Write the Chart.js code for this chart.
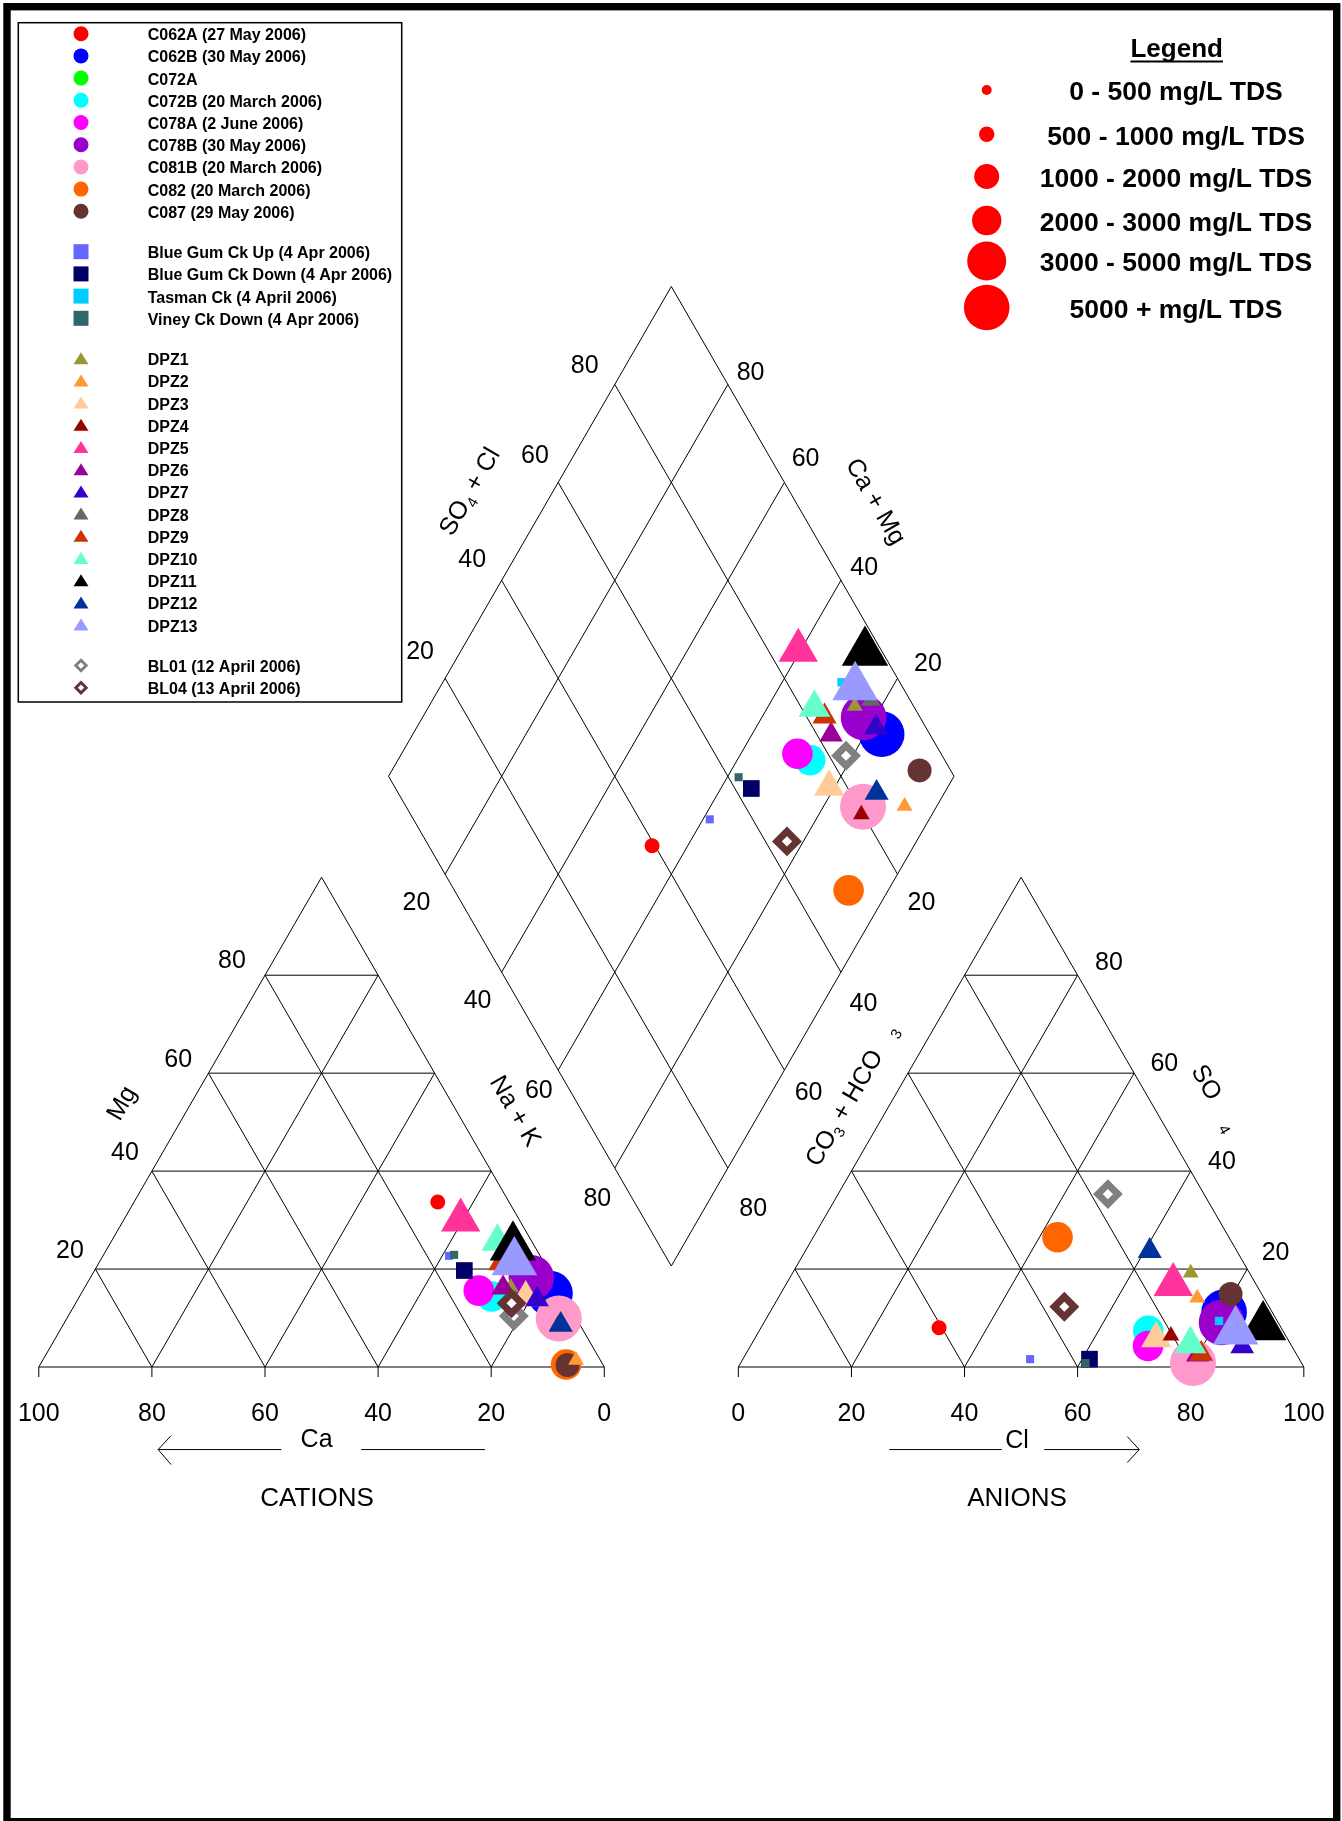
<!DOCTYPE html>
<html>
<head>
<meta charset="utf-8">
<title>Piper diagram</title>
<script src="https://cdn.jsdelivr.net/npm/chart.js@4.4.1/dist/chart.umd.min.js"></script>
<style>
  html, body { margin: 0; padding: 0; background: #fff; }
  #wrap { width: 1342px; height: 1821px; }
</style>
</head>
<body>
<div id="wrap"><canvas id="piperChart" width="1342" height="1821"></canvas></div>
<script>
// Samples, in the order of the legend (later ones are drawn on top)
var sampleNames = ['C062A (27 May 2006)', 'C062B (30 May 2006)', 'C072A', 'C072B (20 March 2006)',
    'C078A (2 June 2006)', 'C078B (30 May 2006)', 'C081B (20 March 2006)', 'C082 (20 March 2006)',
    'C087 (29 May 2006)', 'Blue Gum Ck Up (4 Apr 2006)', 'Blue Gum Ck Down (4 Apr 2006)',
    'Tasman Ck (4 April 2006)', 'Viney Ck Down (4 Apr 2006)', 'DPZ1', 'DPZ2', 'DPZ3', 'DPZ4', 'DPZ5',
    'DPZ6', 'DPZ7', 'DPZ8', 'DPZ9', 'DPZ10', 'DPZ11', 'DPZ12', 'DPZ13',
    'BL01 (12 April 2006)', 'BL04 (13 April 2006)'];

// Cation triangle, % meq/L (Ca = 100 - Mg - Na+K)
var cationMg  = [33.7, 15.0, null, 14.4, 15.6, 18.2, 9.9, 0.5, 0.4, 22.7, 19.7, 23.0, 22.9,
    16.3, 1.4, 14.2, 8.6, 30.0, 16.2, 13.8, 13.5, 21.2, 25.6, 24.5, 8.6, 21.4, 10.4, 13.0];
var cationNaK = [53.7, 82.9, null, 72.9, 70.0, 78.0, 87.0, 93.0, 93.3, 61.2, 65.4, 70.5, 62.0,
    75.3, 94.3, 79.0, 87.5, 59.6, 74.0, 81.2, 77.5, 71.0, 68.3, 71.6, 88.0, 73.4, 78.8, 77.1];

// Anion triangle, % meq/L (CO3 + HCO3 = 100 - SO4 - Cl)
var anionSO4 = [8.0, 11.2, null, 7.4, 4.3, 9.1, 0.8, 26.5, 14.9, 1.6, 1.6, 9.4, 0.8,
    19.2, 14.1, 5.8, 6.4, 16.8, 2.5, 4.2, 8.0, 2.7, 4.7, 8.2, 23.7, 7.3, 35.3, 12.3];
var anionCl  = [31.5, 80.3, null, 68.8, 70.3, 80.9, 80.0, 43.2, 79.6, 50.8, 61.3, 80.3, 61.0,
    70.4, 74.1, 71.0, 73.3, 68.5, 80.0, 87.0, 85.0, 80.5, 77.6, 88.7, 60.9, 84.3, 47.7, 51.5];

var markerColors = ['#ff0000', '#0000ff', '#00ff00', '#00ffff', '#ff00ff', '#9900cc', '#ff99cc', '#ff6600',
    '#663333', '#6666ff', '#000066', '#00ccff', '#336666', '#999933', '#ff9933', '#ffcc99', '#990000',
    '#ff3399', '#990099', '#3300cc', '#666666', '#cc3300', '#66ffcc', '#000000', '#003399', '#9999ff',
    '#808080', '#663333'];
var markerShapes = ['circle', 'circle', 'circle', 'circle', 'circle', 'circle', 'circle', 'circle', 'circle',
    'rect', 'rect', 'rect', 'rect',
    'triangle', 'triangle', 'triangle', 'triangle', 'triangle', 'triangle', 'triangle', 'triangle',
    'triangle', 'triangle', 'triangle', 'triangle', 'triangle',
    'rectRot', 'rectRot'];
// marker size follows TDS of each sample
var markerSizes = [7.5, 22.8, 8, 15.3, 15.3, 22.8, 23, 15.3, 12,
    5.7, 11.8, 5.9, 5.7,
    9.2, 9.2, 17.5, 9.6, 22.7, 13.5, 13.7, 11, 13.9, 18.3, 26.8, 13.9, 26.3,
    10, 10];
var legendGroups = [0, 0, 0, 0, 0, 0, 0, 0, 0, 1, 1, 1, 1, 2, 2, 2, 2, 2, 2, 2, 2, 2, 2, 2, 2, 2, 3, 3];

var tdsClasses = ['0 - 500 mg/L TDS', '500 - 1000 mg/L TDS', '1000 - 2000 mg/L TDS',
    '2000 - 3000 mg/L TDS', '3000 - 5000 mg/L TDS', '5000 + mg/L TDS'];
var tdsRadius = [5, 7.7, 12.5, 14.7, 19.5, 22.8];

var tickValues = [0, 20, 40, 60, 80, 100];
var gridSteps = [20, 40, 60, 80];

// Layout: 1 data unit = 1 % of a triangle side
var PX = 5.655;
var CORNER = { x: 38.8, y: 1367 };   // pixel of the Ca corner of the cation triangle
var GAP = 23.7;                      // space between the triangles
var DIAMOND_LIFT = 17.86;            // lower corner of the diamond above the bases
var SIN60 = Math.sqrt(3) / 2;
var AN = 100 + GAP;                  // left corner of the anion triangle
var FONT = '"Liberation Sans", Arial, sans-serif';

// pixel nudges of the edge numbers (20, 40, 60, 80) away from their grid line ends
var offMg     = [[-25.4, -21.2], [-26.9, -20.9], [-30.2, -16.2], [-33, -17.5]];
var offNaK    = [[-28.7, 25.5], [-24.1, 25.6], [-19.4, 17.8], [-17.4, 27.6]];
var offSO4Cl  = [[-25, -28.8], [-29.4, -23.5], [-23.3, -29.7], [-30, -21]];
var offCaMg   = [[30.5, -17.7], [23.2, -15.4], [21.2, -26.5], [22.7, -14.5]];
var offHCO3   = [[24, 25.8], [22.5, 28.5], [24.2, 19.9], [25.3, 38.3]];
var offSO4    = [[28.3, -19.3], [31.3, -11.9], [30.2, -12.4], [31.3, -15.2]];

var dBottom = { x: 100 + GAP / 2, y: DIAMOND_LIFT };
var dLeft = { x: dBottom.x - 50, y: dBottom.y + 100 * SIN60 };
var dTop = { x: dBottom.x, y: dBottom.y + 200 * SIN60 };
var dRight = { x: dBottom.x + 50, y: dLeft.y };

function cationPoint(mg, nak) {
    return { x: nak + mg / 2, y: mg * SIN60 };
}

function anionPoint(so4, cl) {
    return { x: AN + cl + so4 / 2, y: so4 * SIN60 };
}

function diamondPoint(nak, so4cl) {
    return { x: dLeft.x + (nak + so4cl) / 2, y: dLeft.y + (so4cl - nak) * SIN60 };
}

function lerp(a, b, t) {
    return { x: a.x + (b.x - a.x) * t, y: a.y + (b.y - a.y) * t };
}

// Text with optional subscripts, centred on (x, y), rotated by angle degrees
function drawRich(ctx, parts, x, y, angle, size) {
    ctx.save();
    ctx.translate(x, y);
    ctx.rotate(angle * Math.PI / 180);
    ctx.textBaseline = 'middle';
    ctx.textAlign = 'left';
    var total = 0;
    parts.forEach(function(p) {
        ctx.font = (p.sub ? Math.round(size * 0.6) : size) + 'px ' + FONT;
        p.w = ctx.measureText(p.t).width;
        total += p.w;
    });
    var cx = -total / 2;
    var base = size * 0.11;
    parts.forEach(function(p) {
        ctx.font = (p.sub ? Math.round(size * 0.6) : size) + 'px ' + FONT;
        ctx.fillText(p.t, cx, base + (p.sub ? size * 0.32 : 0));
        cx += p.w;
    });
    ctx.restore();
}

var piperFrame = {
    id: 'piperFrame',
    beforeDraw: function(chart) {
        var ctx = chart.ctx;
        ctx.save();
        ctx.fillStyle = '#ffffff';
        ctx.fillRect(0, 0, chart.width, chart.height);
        ctx.restore();
    },
    beforeDatasetsDraw: function(chart) {
        var ctx = chart.ctx;
        var xs = chart.scales.x, ys = chart.scales.y;
        function X(p) { return xs.getPixelForValue(p.x); }
        function Y(p) { return ys.getPixelForValue(p.y); }
        function seg(a, b) { ctx.moveTo(X(a), Y(a)); ctx.lineTo(X(b), Y(b)); }

        ctx.save();
        ctx.strokeStyle = '#000';
        ctx.lineWidth = 1;
        ctx.beginPath();

        // the two triangles with their 20 % grid
        [0, AN].forEach(function(x0) {
            var A = { x: x0, y: 0 }, B = { x: x0 + 100, y: 0 }, C = { x: x0 + 50, y: 100 * SIN60 };
            seg(A, B); seg(B, C); seg(C, A);
            gridSteps.forEach(function(k) {
                var t = k / 100;
                seg(lerp(A, C, t), lerp(B, C, t));
                seg(lerp(A, B, t), lerp(B, C, 1 - t));
                seg(lerp(A, B, t), lerp(A, C, t));
            });
            tickValues.forEach(function(t) {
                var p = { x: x0 + t, y: 0 };
                ctx.moveTo(X(p), Y(p));
                ctx.lineTo(X(p), Y(p) + 10);
            });
        });

        // the diamond
        seg(dLeft, dTop); seg(dTop, dRight); seg(dRight, dBottom); seg(dBottom, dLeft);
        gridSteps.forEach(function(k) {
            seg(diamondPoint(k, 0), diamondPoint(k, 100));
            seg(diamondPoint(0, k), diamondPoint(100, k));
        });
        ctx.stroke();

        // arrows under the triangles
        var ay = -14.6;
        ctx.beginPath();
        seg({ x: 21.1, y: ay }, { x: 42.9, y: ay });
        seg({ x: 57.0, y: ay }, { x: 78.9, y: ay });
        seg({ x: AN + 26.7, y: ay }, { x: AN + 46.6, y: ay });
        seg({ x: AN + 54.1, y: ay }, { x: AN + 70.9, y: ay });
        var l = { x: 21.1, y: ay }, r = { x: AN + 70.9, y: ay };
        ctx.moveTo(X(l) + 13, Y(l) - 14); ctx.lineTo(X(l), Y(l)); ctx.lineTo(X(l) + 13, Y(l) + 15);
        ctx.moveTo(X(r) - 12, Y(r) - 13); ctx.lineTo(X(r), Y(r)); ctx.lineTo(X(r) - 12, Y(r) + 13);
        ctx.stroke();

        // axis numbers
        ctx.fillStyle = '#000';
        ctx.textAlign = 'center';
        ctx.textBaseline = 'middle';
        ctx.font = '25px ' + FONT;
        function label(text, p, off) {
            ctx.fillText(text, X(p) + off[0], Y(p) + off[1] + 3);
        }
        tickValues.forEach(function(t) {
            label(String(100 - t), { x: t, y: 0 }, [0, 44.6]);
            label(String(t), { x: AN + t, y: 0 }, [0, 44.6]);
        });
        gridSteps.forEach(function(k, n) {
            label(String(k), cationPoint(k, 0), offMg[n]);
            label(String(k), anionPoint(k, 100 - k), offSO4[n]);
            label(String(k), diamondPoint(k, 0), offNaK[n]);
            label(String(k), diamondPoint(0, k), offSO4Cl[n]);
            label(String(k), diamondPoint(100 - k, 100), offCaMg[n]);
            label(String(k), diamondPoint(100, 100 - k), offHCO3[n]);
        });

        // axis titles
        function title(parts, p, dx, dy, angle, size) {
            drawRich(ctx, parts, X(p) + dx, Y(p) + dy, angle, size);
        }
        title([{ t: 'Mg' }], cationPoint(50, 0), -60.2, -20, -60, 25);
        title([{ t: 'Na + K' }], diamondPoint(70, 0), -69.5, -9, 60, 25);
        title([{ t: 'SO' }, { t: '4', sub: true }, { t: ' + Cl' }], diamondPoint(0, 50), -61.9, -40.8, -60, 25);
        title([{ t: 'Ca + Mg' }], diamondPoint(50, 100), 64.8, -30.8, 60, 25);
        title([{ t: 'CO' }, { t: '3', sub: true }, { t: ' + HCO' }, { t: '   ' }, { t: '3', sub: true }],
            diamondPoint(100, 50), 37.3, 73.2, -60, 25);
        title([{ t: 'SO' }, { t: '    ' }, { t: '4', sub: true }], anionPoint(50, 50), 54.6, -25.1, 60, 25);
        title([{ t: 'Ca' }], { x: 50, y: 0 }, -5, 70.5, 0, 25);
        title([{ t: 'Cl' }], { x: AN + 50, y: 0 }, -4, 71.5, 0, 25);
        title([{ t: 'CATIONS' }], { x: 50, y: 0 }, -4.5, 129, 0, 26);
        title([{ t: 'ANIONS' }], { x: AN + 50, y: 0 }, -4, 129, 0, 26);
        ctx.restore();
    },
    afterDraw: function(chart) {
        var ctx = chart.ctx;
        ctx.save();

        // sample legend
        ctx.strokeStyle = '#000';
        ctx.lineWidth = 1.5;
        ctx.strokeRect(18.3, 22.7, 383.4, 679.3);
        ctx.font = 'bold 16px ' + FONT;
        ctx.textAlign = 'left';
        ctx.textBaseline = 'middle';
        for (var i = 0; i < sampleNames.length; i++) {
            var y = 33.7 + i * 22.2 + legendGroups[i] * 18.2;
            var x = 81;
            var color = markerColors[i];
            ctx.fillStyle = color;
            ctx.beginPath();
            if (markerShapes[i] == 'circle') {
                ctx.arc(x, y, 7.5, 0, 2 * Math.PI);
                ctx.fill();
            } else if (markerShapes[i] == 'rect') {
                ctx.fillRect(x - 7.5, y - 7.5, 15, 15);
            } else if (markerShapes[i] == 'triangle') {
                ctx.moveTo(x, y - 6.5);
                ctx.lineTo(x + 7.5, y + 5.5);
                ctx.lineTo(x - 7.5, y + 5.5);
                ctx.closePath();
                ctx.fill();
            } else {
                ctx.moveTo(x, y - 5.2);
                ctx.lineTo(x + 5.2, y);
                ctx.lineTo(x, y + 5.2);
                ctx.lineTo(x - 5.2, y);
                ctx.closePath();
                ctx.fillStyle = '#fff';
                ctx.fill();
                ctx.strokeStyle = color;
                ctx.lineWidth = 3;
                ctx.stroke();
            }
            ctx.fillStyle = '#000';
            ctx.fillText(sampleNames[i], 147.7, y + 2);
        }

        // TDS legend
        ctx.textAlign = 'center';
        ctx.font = 'bold 26px ' + FONT;
        ctx.fillText('Legend', 1176.7, 50);
        var lw = ctx.measureText('Legend').width;
        ctx.fillRect(1176.7 - lw / 2, 60.5, lw, 2);
        ctx.font = 'bold 26.5px ' + FONT;
        var tdsY = [90, 134.3, 176.5, 220.5, 261, 307.5];
        for (var j = 0; j < tdsClasses.length; j++) {
            ctx.fillStyle = '#ff0000';
            ctx.beginPath();
            ctx.arc(986.7, tdsY[j], tdsRadius[j], 0, 2 * Math.PI);
            ctx.fill();
            ctx.fillStyle = '#000';
            ctx.fillText(tdsClasses[j], 1176, tdsY[j] + 3);
        }

        // page frame
        ctx.strokeStyle = '#000';
        ctx.lineWidth = 7.4;
        ctx.strokeRect(7, 6.7, 1329.7, 1815);
        ctx.restore();
    }
};

var datasets = sampleNames.map(function(name, i) {
    var points = [];
    if (cationMg[i] !== null) {
        points.push(cationPoint(cationMg[i], cationNaK[i]));
        points.push(diamondPoint(cationNaK[i], anionSO4[i] + anionCl[i]));
        points.push(anionPoint(anionSO4[i], anionCl[i]));
    }
    var hollow = markerShapes[i] == 'rectRot';
    return {
        label: name,
        data: points,
        pointStyle: markerShapes[i],
        pointRadius: markerSizes[i],
        pointBackgroundColor: hollow ? '#ffffff' : markerColors[i],
        pointBorderColor: markerColors[i],
        pointBorderWidth: hollow ? 7 : 0,
        showLine: false,
        clip: false,
        order: sampleNames.length - i
    };
});

var ctx = document.getElementById('piperChart').getContext('2d');
var piperChart = new Chart(ctx, {
    type: 'scatter',
    data: { datasets: datasets },
    options: {
        responsive: false,
        animation: false,
        events: [],
        devicePixelRatio: 1,
        layout: { padding: 0, autoPadding: false },
        scales: {
            x: { type: 'linear', display: false, min: -CORNER.x / PX, max: (1342 - CORNER.x) / PX },
            y: { type: 'linear', display: false, min: -(1821 - CORNER.y) / PX, max: CORNER.y / PX }
        },
        plugins: {
            legend: { display: false },
            tooltip: { enabled: false }
        }
    },
    plugins: [piperFrame]
});
</script>
</body>
</html>
